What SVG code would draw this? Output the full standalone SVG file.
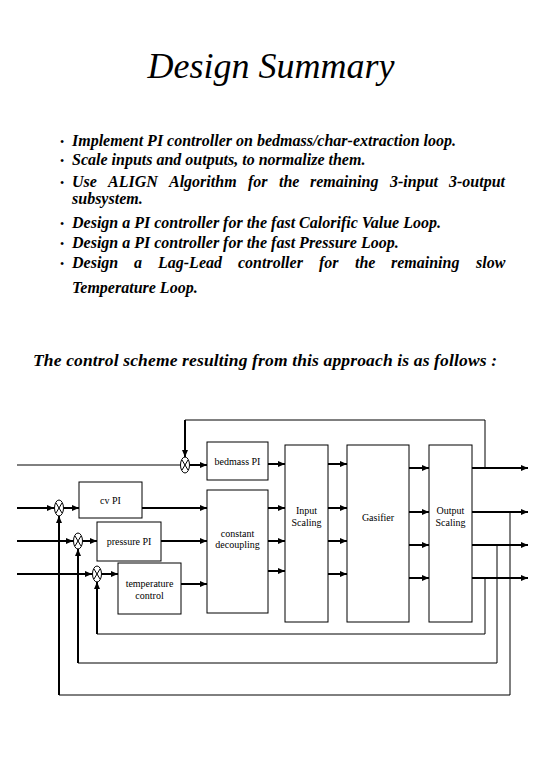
<svg xmlns="http://www.w3.org/2000/svg" width="540" height="780" viewBox="0 0 540 780">
<style>
.title{font-family:"Liberation Serif","Times New Roman",serif;font-style:italic;font-size:36px;fill:#000}
.bul{font-family:"Liberation Serif","Times New Roman",serif;font-style:italic;font-weight:bold;font-size:16px;fill:#000}
.dot{font-family:"Liberation Serif","Times New Roman",serif;font-size:12px;fill:#000}
.sub{font-family:"Liberation Serif","Times New Roman",serif;font-style:italic;font-weight:bold;font-size:17.5px;fill:#000}
.lbl{font-family:"Liberation Serif","Times New Roman",serif;font-size:10px;fill:#000;text-anchor:middle}
.box{fill:#fff;stroke:#000;stroke-width:1}
.thick{fill:none;stroke:#000;stroke-width:2}
.thin{fill:none;stroke:#000;stroke-width:1}
.arr{marker-end:url(#ah)}
.sj{fill:#fff;stroke:#000;stroke-width:1}
</style>
<defs>
<marker id="ah" markerWidth="8" markerHeight="8" refX="7" refY="4" orient="auto" markerUnits="userSpaceOnUse"><path d="M0,1 L7,4 L0,7 z" fill="#000"/></marker>
</defs>
<rect width="540" height="780" fill="#fff"/>

<text class="title" x="271" y="78" text-anchor="middle">Design Summary</text>

<g id="bullets">
<text class="dot" x="60" y="146">•</text>
<text class="dot" x="60" y="165">•</text>
<text class="dot" x="60" y="187">•</text>
<text class="dot" x="60" y="228">•</text>
<text class="dot" x="60" y="248">•</text>
<text class="dot" x="60" y="268">•</text>
<text class="bul" x="72" y="146">Implement PI controller on bedmass/char-extraction loop.</text>
<text class="bul" x="72" y="165">Scale inputs and outputs, to normalize them.</text>
<text class="bul" y="187"><tspan x="72">Use</tspan><tspan x="108">ALIGN</tspan><tspan x="169">Algorithm</tspan><tspan x="248">for</tspan><tspan x="279">the</tspan><tspan x="310">remaining</tspan><tspan x="390">3-input</tspan><tspan x="449">3-output</tspan></text>
<text class="bul" x="72" y="204">subsystem.</text>
<text class="bul" x="72" y="228">Design a PI controller for the fast Calorific Value Loop.</text>
<text class="bul" x="72" y="248">Design a PI controller for the fast Pressure Loop.</text>
<text class="bul" y="268"><tspan x="72">Design</tspan><tspan x="134">a</tspan><tspan x="158">Lag-Lead</tspan><tspan x="238">controller</tspan><tspan x="319">for</tspan><tspan x="355">the</tspan><tspan x="391">remaining</tspan><tspan x="476">slow</tspan></text>
<text class="bul" x="72" y="293">Temperature Loop.</text>
</g>

<text class="sub" x="33" y="366" textLength="464" lengthAdjust="spacing">The control scheme resulting from this approach is as follows :</text>

<g id="connectors">
<path class="thin" d="M17,465 H180"/>
<path class="thick arr" d="M17,508 H54"/>
<path class="thick arr" d="M17,541 H73"/>
<path class="thick arr" d="M17,574 H92"/>
<path class="thick arr" d="M190,465 H207"/>
<path class="thick arr" d="M64,508 H79"/>
<path class="thick arr" d="M83,541 H97"/>
<path class="thick arr" d="M102,574 H118"/>
<path class="thick arr" d="M142,508 H207"/>
<path class="thick arr" d="M161,541 H207"/>
<path class="thick arr" d="M181,584 H207"/>
<path class="thick arr" d="M268,464 H285"/>
<path class="thick arr" d="M268,508 H285"/>
<path class="thick arr" d="M268,541 H285"/>
<path class="thick arr" d="M268,571 H285"/>
<path class="thick arr" d="M328,464 H347"/>
<path class="thick arr" d="M328,508 H347"/>
<path class="thick arr" d="M328,541 H347"/>
<path class="thick arr" d="M328,574 H347"/>
<path class="thick arr" d="M409,468 H429"/>
<path class="thick arr" d="M409,512 H429"/>
<path class="thick arr" d="M409,545 H429"/>
<path class="thick arr" d="M409,578 H429"/>
<path class="thick arr" d="M472,468 H528"/>
<path class="thick arr" d="M472,512 H528"/>
<path class="thick arr" d="M472,545 H528"/>
<path class="thick arr" d="M472,578 H528"/>
<path class="thin" d="M485,468 V420 H185"/>
<path class="thick arr" d="M185,420 V457"/>
<path class="thin" d="M510,512 V695 H59"/>
<path class="thick arr" d="M59,695 V516"/>
<path class="thin" d="M497,545 V663 H78"/>
<path class="thick arr" d="M78,663 V549"/>
<path class="thin" d="M485,578 V634 H97"/>
<path class="thick arr" d="M97,634 V582"/>
</g>

<g id="sum1"><ellipse class="sj" cx="185" cy="465" rx="4.5" ry="8"/><path class="thin" d="M182,460 L188,470 M188,460 L182,470"/></g>
<g id="sum2"><ellipse class="sj" cx="59" cy="508" rx="4.5" ry="8"/><path class="thin" d="M56,503 L62,513 M62,503 L56,513"/></g>
<g id="sum3"><ellipse class="sj" cx="78" cy="541" rx="4.5" ry="8"/><path class="thin" d="M75,536 L81,546 M81,536 L75,546"/></g>
<g id="sum4"><ellipse class="sj" cx="97" cy="574" rx="4.5" ry="8"/><path class="thin" d="M94,569 L100,579 M100,569 L94,579"/></g>

<g id="bedmass"><rect class="box" x="207" y="442" width="61" height="38"/><text class="lbl" x="237.5" y="465">bedmass PI</text></g>
<g id="cvpi"><rect class="box" x="79" y="482" width="63" height="36"/><text class="lbl" x="110.5" y="504">cv PI</text></g>
<g id="pressure"><rect class="box" x="97" y="522" width="64" height="39"/><text class="lbl" x="129" y="545">pressure PI</text></g>
<g id="temperature"><rect class="box" x="118" y="563" width="63" height="51"/><text class="lbl" x="149.5" y="587">temperature</text><text class="lbl" x="149.5" y="599">control</text></g>
<g id="decoupling"><rect class="box" x="207" y="490" width="61" height="123"/><text class="lbl" x="237.5" y="537">constant</text><text class="lbl" x="237.5" y="548">decoupling</text></g>
<g id="inscale"><rect class="box" x="285" y="445" width="43" height="177"/><text class="lbl" x="306.5" y="514">Input</text><text class="lbl" x="306.5" y="526">Scaling</text></g>
<g id="gasifier"><rect class="box" x="347" y="445" width="62" height="177"/><text class="lbl" x="378" y="521">Gasifier</text></g>
<g id="outscale"><rect class="box" x="429" y="445" width="43" height="177"/><text class="lbl" x="450.5" y="514">Output</text><text class="lbl" x="450.5" y="526">Scaling</text></g>
</svg>
